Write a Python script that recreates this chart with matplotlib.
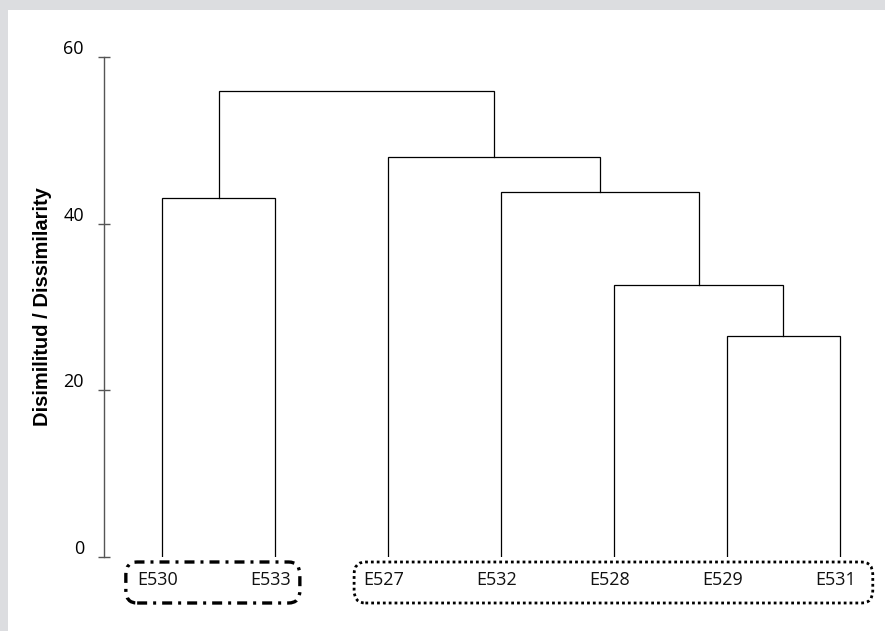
import matplotlib
matplotlib.use("Agg")
import matplotlib.pyplot as plt
from matplotlib.patches import FancyBboxPatch, Rectangle
from matplotlib.transforms import ScaledTranslation, blended_transform_factory

# --- data ---
leaves = ["E530", "E533", "E527", "E532", "E528", "E529", "E531"]
# merges: (left cluster, right cluster, height); ints < 7 are leaves, >= 7 are earlier merges
merges = [
    (5, 6, 26.5),    # 7: E529 + E531
    (4, 7, 32.6),    # 8: E528 + 7
    (3, 8, 43.8),    # 9: E532 + 8
    (0, 1, 43.1),    # 10: E530 + E533
    (2, 9, 48.0),    # 11: E527 + 9
    (10, 11, 55.9),  # 12: top
]
groups = [(0, 1, "dashdot"), (2, 6, "dotted")]
yticks = [0, 20, 40, 60]
ylabel = "Disimilitud / Dissimilarity"

W, H = 885, 631
fig = plt.figure(figsize=(W / 100, H / 100), dpi=100)
fig.patch.set_facecolor("#dcdde0")
fig.add_artist(Rectangle((8 / W, 0), 1, 1 - 10 / H, transform=fig.transFigure,
                         facecolor="white", edgecolor="none", zorder=0))

# axes: spine at x=104px, y0 at 557px, y60 at 57px, leaves start at 162px spaced 113px
ax = fig.add_axes([104 / W, (H - 557) / H, 1 - 104 / W, 500 / H])
ax.set_facecolor("none")
ax.set_xlim((104 - 162) / 113, (885 - 162) / 113)
ax.set_ylim(0, 60)

# node positions
pos = {i: (float(i), 0.0) for i in range(len(leaves))}
for k, (a, b, h) in enumerate(merges):
    xa, ya = pos[a]
    xb, yb = pos[b]
    ax.plot([xa, xa, xb, xb], [ya, h, h, yb], color="black", lw=0.9,
            solid_joinstyle="miter")
    pos[len(leaves) + k] = ((xa + xb) / 2, h)

# y axis
for s in ["top", "right", "bottom"]:
    ax.spines[s].set_visible(False)
ax.spines["left"].set_color("#555555")
ax.spines["left"].set_linewidth(1.0)
ax.set_xticks([])
ax.set_yticks(yticks)
ax.tick_params(axis="y", direction="inout", length=8, width=1, color="#555555",
               pad=14, labelsize=13)
off = ScaledTranslation(0.05, 10 / 100, fig.dpi_scale_trans)
for lab in ax.get_yticklabels():
    lab.set_fontfamily("Open Sans")
    lab.set_transform(lab.get_transform() + off)
ax.set_ylabel(ylabel, fontsize=14.5, fontweight="bold", family="Liberation Sans")
ax.yaxis.set_label_coords((52 - 104) / (W - 104), 0.5)

# leaf labels and group boxes
tr = blended_transform_factory(ax.transData, ax.transAxes)
for i, name in enumerate(leaves):
    ax.text(i - 0.04, -0.046, name, transform=tr, ha="center", va="center",
            fontsize=13, family="Open Sans", color="#111111")

styles = {"dashdot": (0, (3, 1.8, 0.9, 1.8)), "dotted": (0, (1, 1.1))}
widths = {"dashdot": 2.4, "dotted": 2.0}
pads = {"dashdot": (0.32, 0.22), "dotted": (0.30, 0.29)}
for lo, hi, st in groups:
    pl, pr = pads[st]
    box = FancyBboxPatch((lo - pl, -0.092), hi - lo + pl + pr, 0.082,
                         boxstyle="round,pad=0,rounding_size=0.1",
                         mutation_aspect=0.25,
                         transform=tr, fill=False, edgecolor="black",
                         lw=widths[st], linestyle=styles[st], clip_on=False)
    ax.add_patch(box)

fig.savefig("out.png", dpi=100)
